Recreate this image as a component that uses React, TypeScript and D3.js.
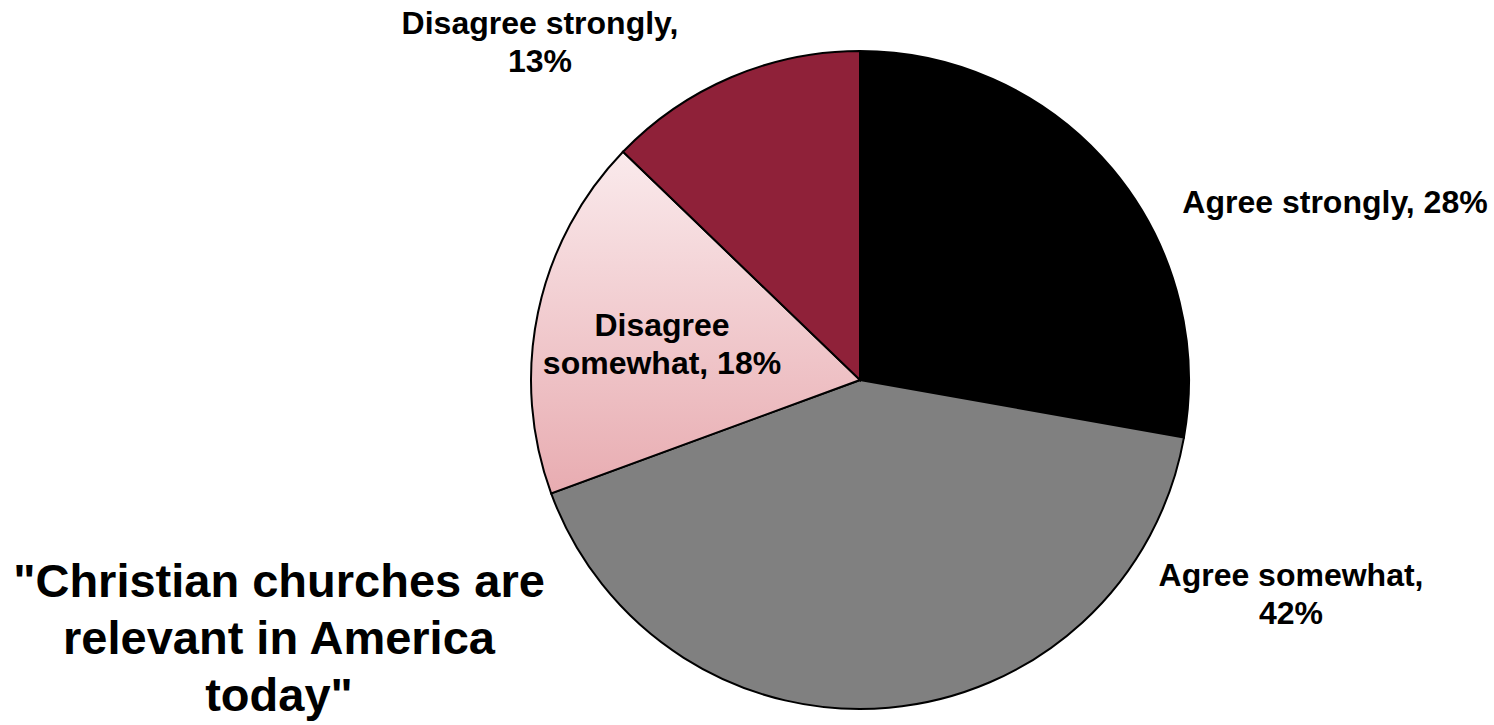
import React from "react";
import * as d3 from "d3";

const categories = ["Agree strongly", "Agree somewhat", "Disagree somewhat", "Disagree strongly"];
const values = [27.8, 41.6, 17.8, 12.8];
const labelPct = [28, 42, 18, 13];
const colors = ["#000000", "#808080", "url(#pinkGrad)", "#8f2139"];
const titleLines = ['"Christian churches are', "relevant in America", 'today"'];

const W = 1494;
const H = 725;
const cx = 860;
const cy = 380;
const R = 329;

export default function App() {
  const pie = d3.pie<number>().sort(null).value((d) => d)(values);
  const arc = d3.arc<d3.PieArcDatum<number>>().innerRadius(0).outerRadius(R);

  const labelSpecs = [
    { lines: [`${categories[0]}, ${labelPct[0]}%`], x: 1335, y: 213 },
    { lines: [`${categories[1]},`, `${labelPct[1]}%`], x: 1291, y: 586 },
    { lines: ["Disagree", `somewhat, ${labelPct[2]}%`], x: 662, y: 336 },
    { lines: [`${categories[3]},`, `${labelPct[3]}%`], x: 540, y: 34 },
  ];

  return (
    <svg width={W} height={H} style={{ position: "absolute", left: 0, top: 0 }}>
      <defs>
        <linearGradient id="pinkGrad" x1="0" y1="0" x2="0" y2="1">
          <stop offset="0" stopColor="#faeaec" />
          <stop offset="1" stopColor="#e8acb1" />
        </linearGradient>
      </defs>
      <rect width={W} height={H} fill="#fff" />
      <g transform={`translate(${cx},${cy})`}>
        {pie.map((p, i) => (
          <path key={i} d={arc(p) || ""} fill={colors[i]} stroke="#000" strokeWidth={2} />
        ))}
      </g>
      <g fontWeight="bold" fill="#000" fontFamily="Liberation Sans, Arial, sans-serif">
        {labelSpecs.map((l, i) => (
          <text key={i} textAnchor="middle" fontSize={32}>
            {l.lines.map((s, j) => (
              <tspan key={j} x={l.x} y={l.y + j * 37.5}>
                {s}
              </tspan>
            ))}
          </text>
        ))}
        <text textAnchor="middle" fontSize={47}>
          {titleLines.map((s, j) => (
            <tspan key={j} x={279} y={597 + j * 57}>
              {s}
            </tspan>
          ))}
        </text>
      </g>
    </svg>
  );
}
